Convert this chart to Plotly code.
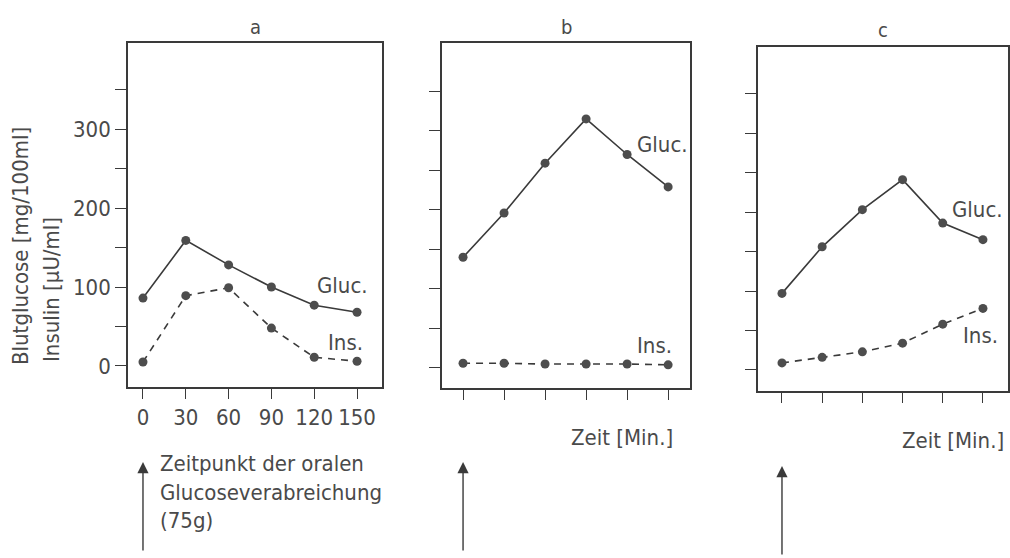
import plotly.graph_objects as go

# ---- data ----
time_min = [0, 30, 60, 90, 120, 150]
gluc_a = [86, 159, 128, 100, 77, 68]
ins_a = [5, 89, 99, 48, 11, 6]
gluc_b = [140, 196, 259, 315, 270, 229]
ins_b = [6, 6, 5, 5, 5, 4]
gluc_c = [97, 156, 203, 241, 186, 165]
ins_c = [9, 16, 23, 34, 58, 78]
panel_titles = ["a", "b", "c"]
y_tickvals = [0, 50, 100, 150, 200, 250, 300, 350]
y_ticktext = ["0", "", "100", "", "200", "", "300", ""]
x_ticktext = ["0", "30", "60", "90", "120", "150"]

W, H = 1010, 558
FONT = "Liberation Sans Narrow, DejaVu Sans Condensed, Arial Narrow, sans-serif"
TXT = "#4a4a4a"
LINE = "#3a3a3a"
FS = 22

def px(x):
    return x / W

def py(y):
    return 1 - y / H

fig = go.Figure()

panels = [
    dict(g=gluc_a, i=ins_a, xd=[px(128), px(382)], yd=[py(387), py(43)],
         xr=[-10.5, 167.5], yr=[-26.6, 408.9], labels=True,
         gl=(140, 102), il=(141.6, 30)),
    dict(g=gluc_b, i=ins_b, xd=[px(442), px(690)], yd=[py(388), py(43)],
         xr=[-15.4, 166], yr=[-25.3, 411], labels=False,
         gl=(146, 283), il=(140, 29)),
    dict(g=gluc_c, i=ins_c, xd=[px(758), px(1008)], yd=[py(391), py(47)],
         xr=[-17.9, 168.7], yr=[-26.6, 409], labels=False,
         gl=(146, 203), il=(148, 44)),
]

def ann(**kw):
    base = dict(showarrow=False, xanchor="center", yanchor="middle",
                font=dict(family=FONT, size=FS, color=TXT))
    base.update(kw)
    fig.add_annotation(**base)

for k, p in enumerate(panels):
    n = "" if k == 0 else str(k + 1)
    xa, ya = "x" + n, "y" + n
    fig.add_trace(go.Scatter(x=time_min, y=p["g"], xaxis=xa, yaxis=ya,
                             mode="lines+markers",
                             line=dict(color=LINE, width=1.6),
                             marker=dict(size=9, color="#4d4d4d"),
                             showlegend=False))
    fig.add_trace(go.Scatter(x=time_min, y=p["i"], xaxis=xa, yaxis=ya,
                             mode="lines+markers",
                             line=dict(color=LINE, width=1.6, dash="7px,6px"),
                             marker=dict(size=9, color="#4d4d4d"),
                             showlegend=False))
    axkw = dict(showline=True, linecolor=LINE, linewidth=1.6, mirror=True,
                showgrid=False, zeroline=False, ticks="outside",
                tickwidth=1.4, tickcolor=LINE,
                tickfont=dict(family=FONT, size=FS, color=TXT))
    fig.update_layout(**{
        ("xaxis" + n): dict(domain=p["xd"], range=p["xr"], anchor=ya,
                            tickvals=time_min, ticklen=10,
                            ticktext=x_ticktext if p["labels"] else [""] * 6,
                            **axkw),
        ("yaxis" + n): dict(domain=p["yd"], range=p["yr"], anchor=xa,
                            tickvals=y_tickvals, ticklen=11,
                            ticktext=y_ticktext if p["labels"] else [""] * 8,
                            **axkw),
    })
    # curve labels
    for txt, pos in (("Gluc.", p["gl"]), ("Ins.", p["il"])):
        ann(x=pos[0], y=pos[1], xref=xa, yref=ya, text=txt)
    # arrow marking time of oral glucose
    fig.add_annotation(x=0, y=py(462 if k < 2 else 466), xref=xa, yref="paper",
                       ax=0, ay=90, axref="pixel", ayref="pixel", text="",
                       showarrow=True, arrowhead=2, arrowsize=1.6,
                       arrowwidth=1.4, arrowcolor=LINE)
    # panel title
    ann(x=sum(p["xd"]) / 2, y=py(27 if k < 2 else 30),
        xref="paper", yref="paper", text=panel_titles[k],
        font=dict(family=FONT, size=20, color=TXT))

# y axis titles
ann(x=px(20), y=py(246), xref="paper", yref="paper",
    text="Blutglucose [mg/100ml]", textangle=-90)
ann(x=px(51), y=py(290), xref="paper", yref="paper",
    text="Insulin [µU/ml]", textangle=-90)

# bottom texts
ann(x=px(158), y=py(449), xref="paper", yref="paper",
    xanchor="left", yanchor="top", align="left",
    text="Zeitpunkt der oralen<br>Glucoseverabreichung<br>(75g)")
for xc, yc in ((622, 437), (953, 440)):
    ann(x=px(xc), y=py(yc), xref="paper", yref="paper", text="Zeit [Min.]")

fig.update_layout(width=W, height=H, margin=dict(l=0, r=0, t=0, b=0),
                  paper_bgcolor="white", plot_bgcolor="white",
                  font=dict(family=FONT, color=TXT))

fig.write_html("out.html", config={"displayModeBar": False},
               post_script="document.body.style.margin='0';document.body.style.overflow='hidden';")
